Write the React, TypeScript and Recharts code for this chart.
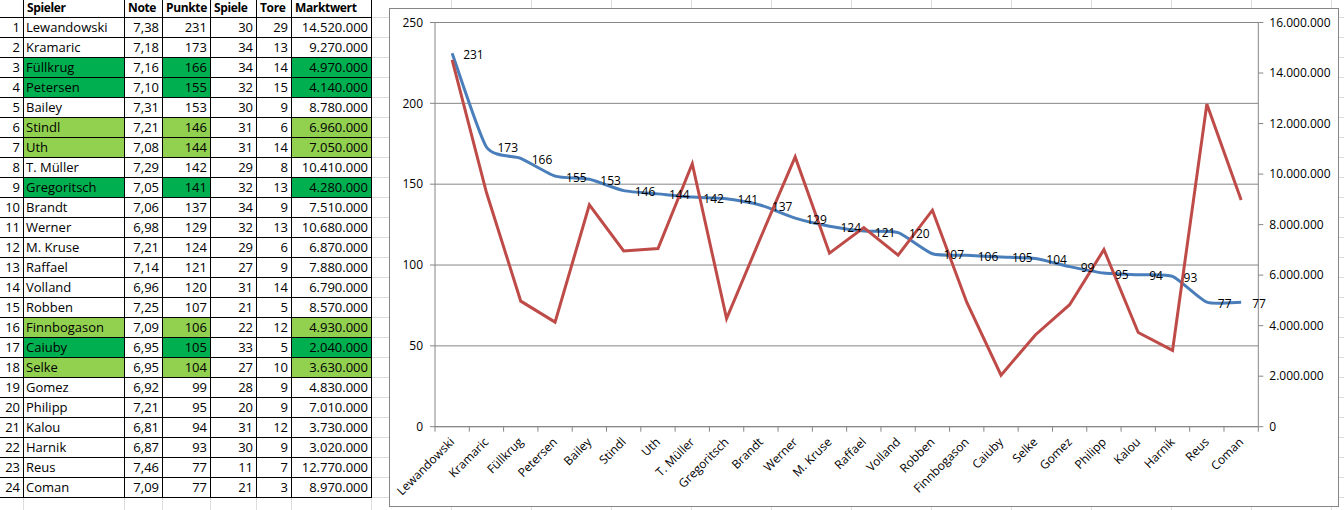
import React from 'react';
import { ComposedChart, Line, XAxis, YAxis, CartesianGrid, LabelList } from 'recharts';

const players = ['Lewandowski', 'Kramaric', 'Füllkrug', 'Petersen', 'Bailey', 'Stindl', 'Uth', 'T. Müller', 'Gregoritsch', 'Brandt', 'Werner', 'M. Kruse', 'Raffael', 'Volland', 'Robben', 'Finnbogason', 'Caiuby', 'Selke', 'Gomez', 'Philipp', 'Kalou', 'Harnik', 'Reus', 'Coman'];
const noten = [7.38, 7.18, 7.16, 7.10, 7.31, 7.21, 7.08, 7.29, 7.05, 7.06, 6.98, 7.21, 7.14, 6.96, 7.25, 7.09, 6.95, 6.95, 6.92, 7.21, 6.81, 6.87, 7.46, 7.09];
const punkte = [231, 173, 166, 155, 153, 146, 144, 142, 141, 137, 129, 124, 121, 120, 107, 106, 105, 104, 99, 95, 94, 93, 77, 77];
const spiele = [30, 34, 34, 32, 30, 31, 31, 29, 32, 34, 32, 29, 27, 31, 21, 22, 33, 27, 28, 20, 31, 30, 11, 21];
const tore = [29, 13, 14, 15, 9, 6, 14, 8, 13, 9, 13, 6, 9, 14, 5, 12, 5, 10, 9, 9, 12, 9, 7, 3];
const marktwert = [14520000, 9270000, 4970000, 4140000, 8780000, 6960000, 7050000, 10410000, 4280000, 7510000, 10680000, 6870000, 7880000, 6790000, 8570000, 4930000, 2040000, 3630000, 4830000, 7010000, 3730000, 3020000, 12770000, 8970000];
// cell highlight per player row: 'd' = dark green, 'l' = light green, '' = none
const highlight = ['', '', 'd', 'd', '', 'l', 'l', '', 'd', '', '', '', '', '', '', 'l', 'd', 'l', '', '', '', '', '', ''];
const headers = ['', 'Spieler', 'Note', 'Punkte', 'Spiele', 'Tore', 'Marktwert'];
const leftTicks = [0, 50, 100, 150, 200, 250];
const rightTicks = [0, 2000000, 4000000, 6000000, 8000000, 10000000, 12000000, 14000000, 16000000];

const FONT = '"Open Sans", sans-serif';
const GRID = '#DADCDD';
const AXIS = '#868686';

const fmtThousands = (n: number) => String(n).replace(/\B(?=(\d{3})+(?!\d))/g, '.');
const fmtNote = (n: number) => n.toFixed(2).replace('.', ',');

const chartData = players.map((name, i) => ({ name, punkte: punkte[i], marktwert: marktwert[i] }));

// Excel-like smoothed line (Catmull-Rom style Bezier with reduced tension)
function excelSmooth(context: any) {
  let pts: [number, number][] = [];
  return {
    areaStart() {},
    areaEnd() {},
    lineStart() {
      pts = [];
    },
    point(x: number, y: number) {
      pts.push([+x, +y]);
    },
    lineEnd() {
      const n = pts.length;
      if (!n) return;
      context.moveTo(pts[0][0], pts[0][1]);
      const k = 0.1;
      for (let i = 0; i < n - 1; i++) {
        const p0 = pts[Math.max(i - 1, 0)];
        const p1 = pts[i];
        const p2 = pts[i + 1];
        const p3 = pts[Math.min(i + 2, n - 1)];
        context.bezierCurveTo(
          p1[0] + (p2[0] - p0[0]) * k,
          p1[1] + (p2[1] - p0[1]) * k,
          p2[0] - (p3[0] - p1[0]) * k,
          p2[1] - (p3[1] - p1[1]) * k,
          p2[0],
          p2[1]
        );
      }
    },
  };
}

const colX = [0, 23, 124, 162, 210, 256, 291, 371];
const colAlignNum = [true, false, true, true, true, true, true];

function Table() {
  const cells: React.ReactNode[] = [];
  const rows = players.length + 1;
  for (let r = 0; r < rows; r++) {
    const top = -3 + 20 * r;
    for (let c = 0; c < 7; c++) {
      let text = '';
      let bg = 'transparent';
      if (r === 0) {
        text = headers[c];
      } else {
        const i = r - 1;
        const vals = [String(r), players[i], fmtNote(noten[i]), String(punkte[i]), String(spiele[i]), String(tore[i]), fmtThousands(marktwert[i])];
        text = vals[c];
        if (highlight[i] && (c === 1 || c === 3 || c === 6)) {
          bg = highlight[i] === 'd' ? '#00B050' : '#92D050';
        }
      }
      const isHeader = r === 0;
      cells.push(
        <div
          key={`${r}-${c}`}
          style={{
            position: 'absolute',
            left: colX[c],
            top,
            width: colX[c + 1] - colX[c] + (c === 6 ? 1 : 0),
            height: 21,
            boxSizing: 'border-box',
            borderTop: isHeader ? 'none' : '1px solid #000',
            borderLeft: c >= 1 ? '1px solid #000' : 'none',
            borderRight: c === 6 ? '1px solid #000' : 'none',
            borderBottom: r === rows - 1 ? '1px solid #000' : 'none',
            background: bg,
            fontFamily: FONT,
            fontSize: isHeader ? 12 : 13,
            fontWeight: isHeader ? 700 : 400,
            letterSpacing: isHeader ? -0.35 : 0,
            lineHeight: isHeader ? '21px' : '19px',
            color: '#000',
            textAlign: isHeader ? 'left' : colAlignNum[c] ? 'right' : 'left',
            padding: isHeader ? '0 0 0 3px' : colAlignNum[c] ? '0 3px 0 0' : '0 0 0 2px',
            whiteSpace: 'nowrap',
          }}
        >
          {text}
        </div>
      );
    }
  }
  return <>{cells}</>;
}

function CatTick(props: any) {
  const { x, y, payload, index } = props;
  const half = 823.3 / 48;
  const tx = x + 3;
  const ty = y + 16;
  return (
    <g>
      <line x1={x - half} x2={x - half} y1={y} y2={y + 5} stroke={AXIS} />
      {index === players.length - 1 && <line x1={x + half} x2={x + half} y1={y} y2={y + 5} stroke={AXIS} />}
      <text x={tx} y={ty} textAnchor="end" transform={`rotate(-45 ${tx} ${ty})`} fontSize={12} fontFamily={FONT} fill="#000">
        {payload.value}
      </text>
    </g>
  );
}

function PointLabel(props: any) {
  const { x, y, value } = props;
  if (x == null || y == null) return null;
  return (
    <text x={x + 11} y={y + 1} dominantBaseline="central" textAnchor="start" fontSize={12} fontFamily={FONT} fill="#000">
      {value}
    </text>
  );
}

function Chart() {
  return (
    <ComposedChart width={948} height={497} data={chartData} margin={{ top: 13.5, right: 0, bottom: 0, left: 0 }}>
      <CartesianGrid yAxisId="left" horizontal vertical={false} stroke={AXIS} />
      <XAxis
        dataKey="name"
        type="category"
        scale="band"
        interval={0}
        tickSize={0}
        tickMargin={0}
        height={79.3}
        stroke={AXIS}
        tick={<CatTick />}
        tickLine={false}
      />
      <YAxis
        yAxisId="left"
        domain={[0, 250]}
        ticks={leftTicks}
        width={45}
        tickSize={5}
        tickMargin={7}
        stroke={AXIS}
        interval={0}
        tick={{ fill: '#000', fontSize: 12, fontFamily: FONT }}
      />
      <YAxis
        yAxisId="right"
        orientation="right"
        domain={[0, 16000000]}
        ticks={rightTicks}
        width={79.7}
        tickSize={5}
        tickMargin={6}
        stroke={AXIS}
        interval={0}
        tickFormatter={(v: number) => fmtThousands(v)}
        tick={{ fill: '#000', fontSize: 12, fontFamily: FONT }}
      />
      <Line yAxisId="left" dataKey="punkte" type={excelSmooth as any} stroke="#4A7EBB" strokeWidth={3} dot={false} activeDot={false} isAnimationActive={false} />
      <Line yAxisId="right" dataKey="marktwert" type="linear" stroke="#BE4B48" strokeWidth={3} dot={false} activeDot={false} isAnimationActive={false} />
      <Line yAxisId="left" dataKey="punkte" type="linear" stroke="none" dot={false} activeDot={false} isAnimationActive={false}>
        <LabelList dataKey="punkte" content={<PointLabel />} />
      </Line>
    </ComposedChart>
  );
}

const vLines = [23, 124, 162, 210, 256, 291, 371, 451, 531, 611, 691, 771, 851, 931, 1011, 1091, 1171, 1251, 1331];

export default function App() {
  return (
    <div
      style={{
        position: 'absolute',
        left: 0,
        top: 0,
        width: 1344,
        height: 510,
        overflow: 'hidden',
        background: '#fff',
        backgroundImage: `repeating-linear-gradient(to bottom, transparent 0px, transparent 17px, ${GRID} 17px, ${GRID} 18px, transparent 18px, transparent 20px)`,
      }}
    >
      {vLines.map((x) => (
        <div key={x} style={{ position: 'absolute', left: x, top: 0, width: 1, height: 510, background: GRID }} />
      ))}
      <div style={{ position: 'absolute', left: 0, top: 0, width: 372, height: 498, background: '#fff' }} />
      <Table />
      <div
        style={{
          position: 'absolute',
          left: 389,
          top: 8,
          width: 950,
          height: 499,
          boxSizing: 'border-box',
          border: `1px solid ${AXIS}`,
          background: '#fff',
        }}
      >
        <Chart />
      </div>
    </div>
  );
}
